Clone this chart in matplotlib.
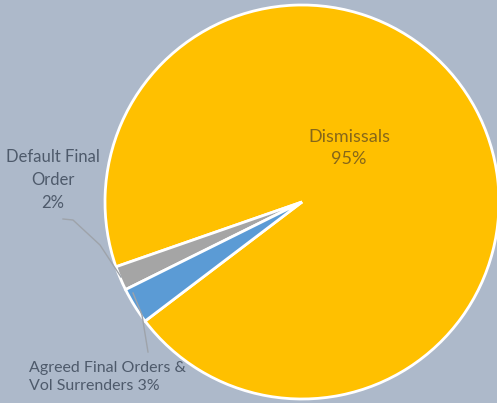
import matplotlib.pyplot as plt

# slice data (Dismissals first, then going counter-clockwise)
categories = ['Dismissals', 'Default Final\nOrder', 'Agreed Final Orders &\nVol Surrenders']
shares = [95, 2, 3]
colors = ['#FFC000', '#A5A5A5', '#5B9BD5']

BG = '#ADB9CA'
W, H = 497, 403

plt.rcParams['font.family'] = ['Lato', 'DejaVu Sans']

fig = plt.figure(figsize=(W / 100, H / 100), dpi=100, facecolor=BG)
ax = fig.add_axes([0, 0, 1, 1])
ax.set_facecolor(BG)

# pie centre / radius in pixel units (y up)
cx, cy, r = 302, H - 202, 197
wedges, _ = ax.pie(shares, colors=colors, startangle=217.2, counterclock=True,
                   center=(cx, cy), radius=r, frame=True,
                   wedgeprops=dict(edgecolor='white', linewidth=2))

ax.set_xlim(0, W)
ax.set_ylim(0, H)
ax.set_aspect('equal')
ax.axis('off')

# labels
ax.text(349, H - 148, f"{categories[0]}\n{shares[0]}%", ha='center', va='center',
        fontsize=13, color='#86671A', linespacing=1.45)
ax.text(53, H - 180, f"{categories[1]}\n{shares[1]}%", ha='center', va='center',
        fontsize=12, color='#4E5A6B', linespacing=1.5)
ax.text(29, H - 377, categories[2] + f" {shares[2]}%", ha='left', va='center',
        fontsize=11.5, color='#4E5A6B', linespacing=1.45)

# leader lines
ax.plot([63, 73, 100, 121], [H - 219, H - 220, H - 245, H - 277],
        color='#9EA3AA', linewidth=1)
ax.plot([133, 142, 148], [H - 293, H - 315, H - 352],
        color='#9EA3AA', linewidth=1)

fig.savefig('out.png', dpi=100, facecolor=BG)
